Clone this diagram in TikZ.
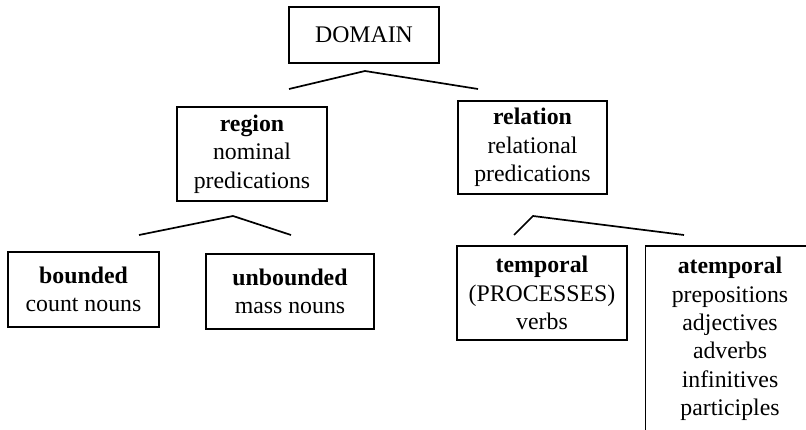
\documentclass[tikz,border=0pt]{standalone}
\usepackage{fontspec}
\setmainfont{Liberation Serif}
\begin{document}
\begin{tikzpicture}[x=1pt,y=-1pt,
  box/.style={draw,line width=1.7pt,rectangle,align=center,inner sep=0pt,
    font=\fontsize{23.8}{28.3}\selectfont},
  branch/.style={line width=1.7pt},
  lbl/.style={align=center,inner sep=0pt,font=\fontsize{23.8}{28.3}\selectfont}]
\useasboundingbox (0,0) rectangle (806,430);
% boxes
\node[box,minimum width=150pt,minimum height=56pt] (domain) at (364,35) {DOMAIN};
\node[box,minimum width=150pt,minimum height=94pt] (region) at (252,154) {\textbf{region}\\nominal\\predications};
\node[box,minimum width=149pt,minimum height=93pt] (relation) at (532.5,147.5) {\textbf{relation}\\relational\\predications};
\node[box,minimum width=151pt,minimum height=75pt] (bounded) at (83.5,289.5) {\textbf{bounded}\\count nouns};
\node[box,minimum width=168pt,minimum height=75pt] (unbounded) at (290,291.5) {\textbf{unbounded}\\mass nouns};
\node[box,minimum width=170pt,minimum height=94pt] (temporal) at (542,293) {\textbf{temporal}\\(PROCESSES)\\verbs};
\node[lbl] (atemporal) at (730,339) {\textbf{atemporal}\\prepositions\\adjectives\\adverbs\\infinitives\\participles};
% atemporal box, cut off by the picture edges
\coordinate (atTR) at (806,246);
\coordinate (atTL) at (645.5,246);
\coordinate (atBL) at (645.5,430);
\draw[branch] (atTR) -- (atTL) -- (atBL);
% branches
\coordinate (d0) at (365,71);
\coordinate (d1) at (289,89);
\coordinate (d2) at (478,89);
\draw[branch] (d1) -- (d0) -- (d2);
\coordinate (r0) at (233,216);
\coordinate (r1) at (139,235);
\coordinate (r2) at (291,235);
\draw[branch] (r1) -- (r0) -- (r2);
\coordinate (l0) at (533,216);
\coordinate (l1) at (514,235);
\coordinate (l2) at (684,235);
\draw[branch] (l1) -- (l0) -- (l2);
\end{tikzpicture}
\end{document}
